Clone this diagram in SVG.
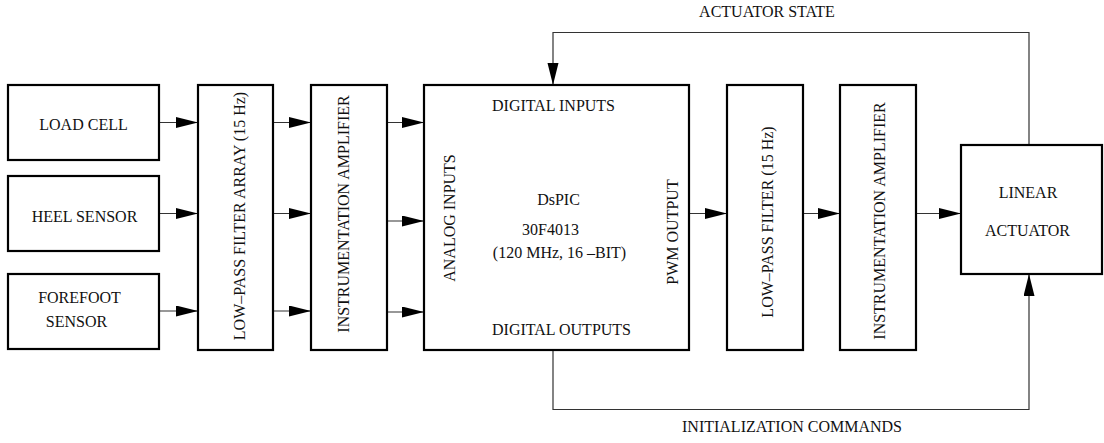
<svg xmlns="http://www.w3.org/2000/svg" width="1104" height="443" viewBox="0 0 1104 443">
  <style>
    .box { fill: #ffffff; stroke: #000000; stroke-width: 2.2; }
    .lbl { font-family: "Liberation Serif", "Times New Roman", serif; font-size: 16px; fill: #111111; }
    .mid { text-anchor: middle; }
    .wire { fill: none; stroke: #333333; stroke-width: 1.2; }
  </style>
  <defs>
    <marker id="arrow" markerUnits="userSpaceOnUse" markerWidth="22" markerHeight="12" refX="22" refY="5.5" orient="auto">
      <path d="M0,0 L22,5.5 L0,11 Z" fill="#000000"/>
    </marker>
  </defs>

  <rect width="1104" height="443" fill="#ffffff"/>

  <!-- connectors -->
  <g id="connectors">
    <!-- sensors to filter array -->
    <line class="wire" x1="160" y1="122.5" x2="198" y2="122.5" marker-end="url(#arrow)"/>
    <line class="wire" x1="160" y1="213.5" x2="198" y2="213.5" marker-end="url(#arrow)"/>
    <line class="wire" x1="160" y1="311" x2="198" y2="311" marker-end="url(#arrow)"/>
    <!-- filter array to amplifier -->
    <line class="wire" x1="273" y1="122.5" x2="311" y2="122.5" marker-end="url(#arrow)"/>
    <line class="wire" x1="273" y1="213.5" x2="311" y2="213.5" marker-end="url(#arrow)"/>
    <line class="wire" x1="273" y1="311" x2="311" y2="311" marker-end="url(#arrow)"/>
    <!-- amplifier to analog inputs -->
    <line class="wire" x1="387" y1="122.5" x2="424" y2="122.5" marker-end="url(#arrow)"/>
    <line class="wire" x1="387" y1="221" x2="424" y2="221" marker-end="url(#arrow)"/>
    <line class="wire" x1="387" y1="312" x2="424" y2="312" marker-end="url(#arrow)"/>
    <!-- output chain -->
    <line class="wire" x1="689" y1="213.5" x2="727" y2="213.5" marker-end="url(#arrow)"/>
    <line class="wire" x1="803" y1="213.5" x2="840" y2="213.5" marker-end="url(#arrow)"/>
    <line class="wire" x1="916" y1="213.5" x2="961" y2="213.5" marker-end="url(#arrow)"/>
    <!-- actuator state feedback -->
    <path class="wire" d="M1029,145 V32.5 H553 V85" marker-end="url(#arrow)"/>
    <!-- initialization commands -->
    <path class="wire" d="M553,350 V409.5 H1029 V274" marker-end="url(#arrow)"/>
    <text class="lbl mid" x="767" y="17">ACTUATOR STATE</text>
    <text class="lbl mid" x="792" y="432">INITIALIZATION COMMANDS</text>
  </g>

  <g id="load-cell">
    <rect class="box" x="8" y="85" width="151" height="75"/>
    <text class="lbl mid" x="83.5" y="130">LOAD CELL</text>
  </g>

  <g id="heel-sensor">
    <rect class="box" x="8" y="176" width="151" height="75"/>
    <text class="lbl mid" x="84.5" y="222">HEEL SENSOR</text>
  </g>

  <g id="forefoot-sensor">
    <rect class="box" x="8" y="274" width="151" height="75"/>
    <text class="lbl mid" x="79.5" y="303">FOREFOOT</text>
    <text class="lbl mid" x="76.5" y="327">SENSOR</text>
  </g>

  <g id="filter-array">
    <rect class="box" x="198" y="85" width="75" height="265"/>
    <text class="lbl mid" transform="translate(245,216) rotate(-90)">LOW–PASS FILTER ARRAY (15 Hz)</text>
  </g>

  <g id="amplifier-in">
    <rect class="box" x="311" y="85" width="76" height="265"/>
    <text class="lbl mid" transform="translate(349,214) rotate(-90)">INSTRUMENTATION AMPLIFIER</text>
  </g>

  <g id="dspic">
    <rect class="box" x="424" y="85" width="265" height="265"/>
    <text class="lbl" x="492" y="111">DIGITAL INPUTS</text>
    <text class="lbl" x="492" y="335">DIGITAL OUTPUTS</text>
    <text class="lbl mid" transform="translate(455,218) rotate(-90)">ANALOG INPUTS</text>
    <text class="lbl mid" transform="translate(678,232) rotate(-90)">PWM OUTPUT</text>
    <text class="lbl mid" x="558.5" y="205">DsPIC</text>
    <text class="lbl mid" x="550.5" y="235">30F4013</text>
    <text class="lbl mid" x="559.5" y="258">(120 MHz, 16 –BIT)</text>
  </g>

  <g id="filter-out">
    <rect class="box" x="727" y="85" width="76" height="265"/>
    <text class="lbl mid" transform="translate(773,222) rotate(-90)">LOW–PASS FILTER (15 Hz)</text>
  </g>

  <g id="amplifier-out">
    <rect class="box" x="840" y="85" width="76" height="265"/>
    <text class="lbl mid" transform="translate(885,221) rotate(-90)">INSTRUMENTATION AMPLIFIER</text>
  </g>

  <g id="linear-actuator">
    <rect class="box" x="961" y="145" width="141" height="129"/>
    <text class="lbl mid" x="1028" y="198">LINEAR</text>
    <text class="lbl mid" x="1027.5" y="236">ACTUATOR</text>
  </g>
</svg>
